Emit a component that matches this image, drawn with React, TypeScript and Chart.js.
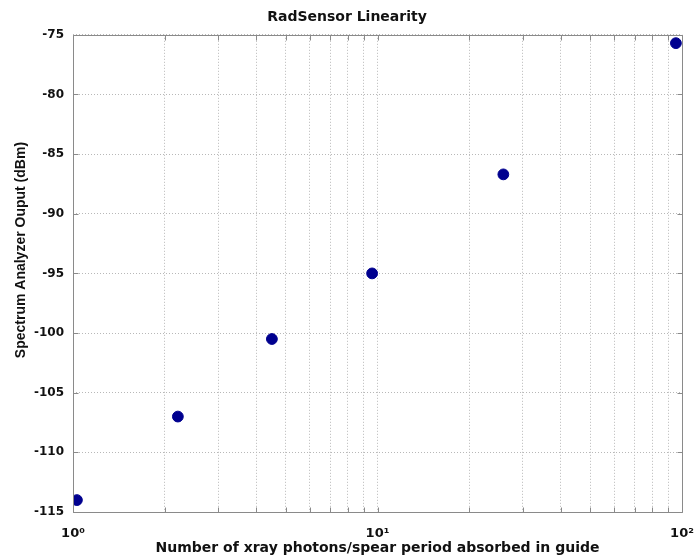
import React, { useEffect, useRef } from "react";
import { Chart, registerables } from "chart.js";

Chart.register(...registerables);

const titleText = "RadSensor Linearity";
const xTitle = "Number of xray photons/spear period absorbed in guide";
const yTitle = "Spectrum Analyzer Ouput (dBm)";

const photons = [1.03, 2.21, 4.5, 9.6, 25.9, 95.5];
const outputDbm = [-114, -107, -100.5, -95, -86.7, -75.7];

const xTickValues = [1, 2, 3, 4, 5, 6, 7, 8, 9, 10, 20, 30, 40, 50, 60, 70, 80, 90, 100];
const xDecadeLabels: Record<number, string> = { 1: "10\u2070", 10: "10\u00B9", 100: "10\u00B2" };
const yMin = -115;
const yMax = -75;
const yStep = 5;

const framePlugin = {
  id: "frameTicks",
  afterDraw(chart: any) {
    const { ctx, chartArea, scales } = chart;
    const { left, right, top, bottom } = chartArea;
    const xs = scales.x;
    const ys = scales.y;
    ctx.save();
    ctx.strokeStyle = "#8a8a8a";
    ctx.lineWidth = 1;
    ctx.beginPath();
    const L = Math.round(left) + 0.5;
    const R = Math.round(right) + 0.5;
    const T = Math.round(top) + 0.5;
    const B = Math.round(bottom) + 0.5;
    ctx.moveTo(L, T);
    ctx.lineTo(R, T);
    ctx.lineTo(R, B);
    ctx.lineTo(L, B);
    ctx.closePath();
    for (const t of xs.ticks) {
      const px = Math.round(xs.getPixelForValue(t.value)) + 0.5;
      ctx.moveTo(px, B);
      ctx.lineTo(px, B - 5);
      ctx.moveTo(px, T);
      ctx.lineTo(px, T + 5);
    }
    for (const t of ys.ticks) {
      const py = Math.round(ys.getPixelForValue(t.value)) + 0.5;
      ctx.moveTo(L, py);
      ctx.lineTo(L + 5, py);
      ctx.moveTo(R, py);
      ctx.lineTo(R - 5, py);
    }
    ctx.stroke();
    ctx.restore();
  },
};

export default function App() {
  const ref = useRef<HTMLCanvasElement | null>(null);
  useEffect(() => {
    document.body.style.margin = "0";
    const canvas = ref.current;
    if (!canvas) return;
    const hFont = "'DejaVu Sans', sans-serif";
    const chart = new Chart(canvas, {
      type: "scatter",
      data: {
        datasets: [
          {
            data: photons.map((x, i) => ({ x, y: outputDbm[i] })),
            backgroundColor: "#00008f",
            borderColor: "#00008f",
            pointRadius: 5.4,
            pointHoverRadius: 5.4,
            showLine: false,
          },
        ],
      },
      options: {
        animation: false,
        responsive: false,
        events: [],
        layout: { padding: 0 },
        plugins: {
          legend: { display: false },
          tooltip: { enabled: false },
          title: {
            display: true,
            text: titleText,
            color: "#111",
            font: { family: hFont, size: 14, weight: "bold" },
            padding: { top: 9, bottom: 9 },
          },
        },
        scales: {
          x: {
            type: "logarithmic",
            min: 1,
            max: 100,
            afterBuildTicks: (scale: any) => {
              scale.ticks = xTickValues.map((v) => ({ value: v }));
            },
            afterFit: (scale: any) => {
              scale.height = 48;
              scale.paddingLeft = 0;
              scale.paddingRight = 12;
            },
            ticks: {
              autoSkip: false,
              maxRotation: 0,
              minRotation: 0,
              padding: 14,
              color: "#111",
              font: { family: hFont, size: 13, weight: "bold" },
              callback: (v: any) => xDecadeLabels[Number(v)] ?? "",
            },
            grid: { color: "#b8b8b8", lineWidth: 1, drawTicks: false },
            border: { display: false, dash: [1, 2] },
            title: {
              display: true,
              text: xTitle,
              color: "#111",
              font: { family: hFont, size: 14, weight: "bold" },
              padding: { top: 0, bottom: 3 },
            },
          },
          y: {
            type: "linear",
            min: yMin,
            max: yMax,
            afterFit: (scale: any) => {
              scale.width = 73;
            },
            ticks: {
              stepSize: yStep,
              padding: 9,
              color: "#111",
              font: { family: hFont, size: 12, weight: "bold" },
            },
            grid: { color: "#b8b8b8", lineWidth: 1, drawTicks: false },
            border: { display: false, dash: [1, 2] },
            title: {
              display: true,
              text: "            " + yTitle,
              color: "#111",
              font: { family: "'Liberation Sans', Arial, sans-serif", size: 14, weight: "bold" },
              padding: { top: 13, bottom: 0 },
            },
          },
        },
      },
      plugins: [framePlugin],
    } as any);
    return () => chart.destroy();
  }, []);
  return (
    <div style={{ position: "absolute", left: 0, top: 0, width: 694, height: 560 }}>
      <canvas ref={ref} width={694} height={560} />
    </div>
  );
}
